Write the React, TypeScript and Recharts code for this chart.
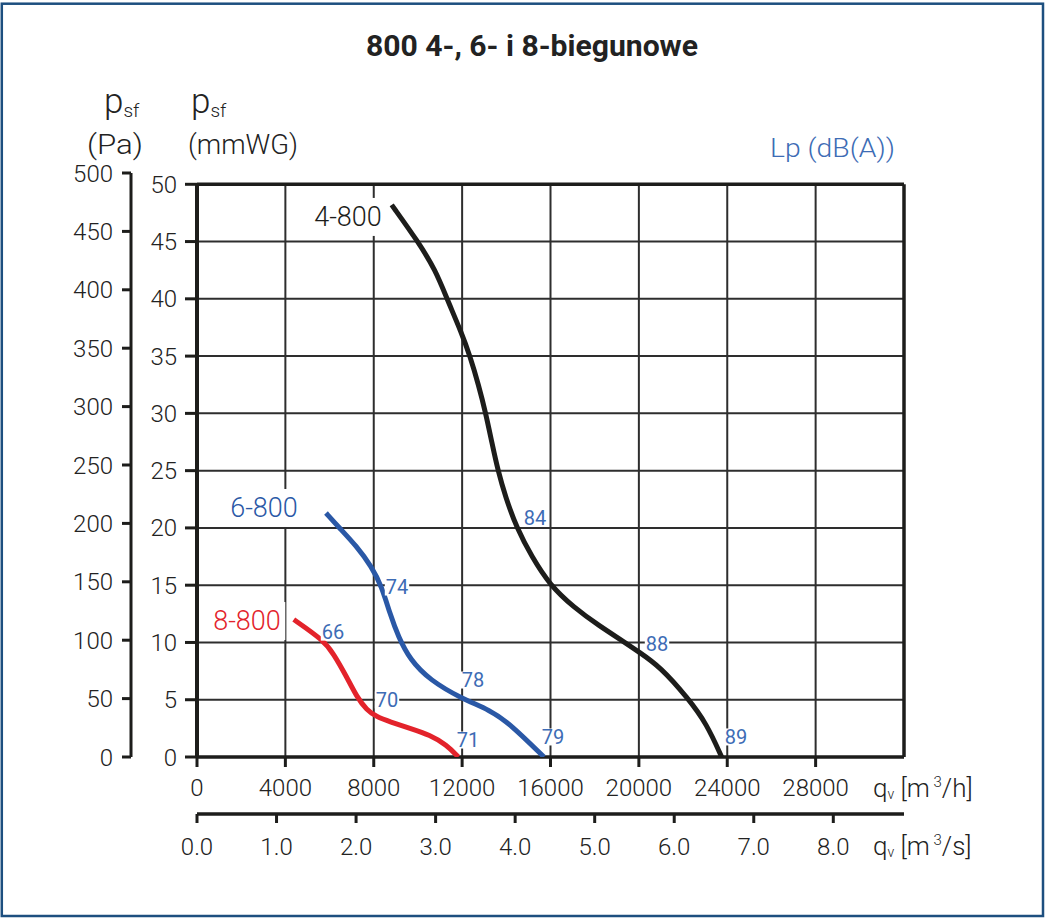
import React from 'react';
import { LineChart, Line, XAxis, YAxis, ReferenceLine, ReferenceDot } from 'recharts';

// ---- data (flow in m3/h, static pressure in mmWG) ----
const flow4 = [8812, 10003, 10795, 11315, 11980, 12356, 12741, 13071, 13352, 13623, 13963, 14470, 15148, 15977, 17033, 18240, 19296, 19975, 20956, 22237, 23068, 23747];
const pres4 = [48.2, 45.0, 42.5, 40.0, 37.0, 35.0, 32.5, 30.0, 27.4, 25.0, 22.7, 20.0, 17.5, 15.0, 13.1, 11.4, 10.1, 9.2, 7.9, 5.1, 2.9, 0];

const flow6 = [5839, 6397, 7228, 7906, 8358, 8735, 9112, 9640, 10546, 11980, 13262, 14167, 15706];
const pres6 = [21.3, 20.1, 18.4, 16.6, 14.9, 12.5, 10.5, 8.5, 6.7, 5.1, 4.1, 2.9, 0];

const flow8 = [4380, 5718, 6170, 6775, 7228, 7680, 8133, 8735, 9640, 10546, 11300, 11827];
const pres8 = [12.0, 10.2, 9.05, 7.0, 5.26, 4.1, 3.5, 3.08, 2.5, 1.92, 1.05, 0];

const flowTicks = [0, 4000, 8000, 12000, 16000, 20000, 24000, 28000];
const gridFlow = [4000, 8000, 12000, 16000, 20000, 24000, 28000];
const mmTicks = [0, 5, 10, 15, 20, 25, 30, 35, 40, 45, 50];
const paTicks = [0, 50, 100, 150, 200, 250, 300, 350, 400, 450, 500];
const m3sTicks = [0, 1, 2, 3, 4, 5, 6, 7, 8];

const dbText = ['84', '88', '89', '79', '74', '78', '66', '70', '71'];
const dbFlow = [15298, 20820, 24396, 16113, 9052, 12492, 6155, 8600, 12266];
const dbPres = [20.86, 9.87, 1.75, 1.75, 14.84, 6.72, 10.9, 4.98, 1.48];

const nameText = ['4-800', '6-800', '8-800'];
const nameFlow = [6834, 3032, 2263];
const namePres = [47.15, 21.74, 11.87];

// ---- derived ----
const FLOW_MAX = 32000;
const PA_MAX = 500;
const MM_MAX = PA_MAX / 9.80665;
const M3S_MAX = FLOW_MAX / 3600;

const toRows = (f: number[], p: number[]) => f.map((q, i) => ({ q, p: p[i] }));
const data4 = toRows(flow4, pres4);
const data6 = toRows(flow6, pres6);
const data8 = toRows(flow8, pres8);

const BLACK = '#1d1d1b';
const BLUE = '#2a58a6';
const RED = '#e3232b';
const BLUE_TXT = '#3d6cb5';
const GRID = '#2e2e2e';
const TXT = '#222';
const FONT = 'Roboto, "DejaVu Sans", sans-serif';

const nameColors = [BLACK, BLUE, RED];

const charW = (s: string, fs: number) =>
  s.split('').reduce((a, c) => a + (c === '-' ? 0.3 : 0.56) * fs, 0);

const labelShape = (text: string, color: string, fs: number, padX: number, rectH: number, weight: number) =>
  (props: any) => {
    const { cx, cy } = props;
    const w = charW(text, fs) + padX * 2;
    return (
      <g>
        <rect x={cx - w / 2} y={cy - rectH / 2} width={w} height={rectH} fill="#fff" />
        <text x={cx} y={cy} dy="0.35em" textAnchor="middle" fontSize={fs} fontFamily={FONT} fontWeight={weight} fill={color}>
          {text}
        </text>
      </g>
    );
  };

const tickStyle = { fontSize: 24, fill: TXT, fontFamily: FONT, fontWeight: 300 };

export default function App() {
  return (
    <div style={{ position: 'absolute', left: 0, top: 0, width: 1045, height: 920, background: '#fff' }}>
      <LineChart
        width={1045}
        height={920}
        margin={{ top: 173, right: 141, bottom: 46, left: 31 }}
      >
        <XAxis
          xAxisId="h"
          dataKey="q"
          type="number"
          domain={[0, FLOW_MAX]}
          allowDataOverflow
          ticks={flowTicks}
          height={57}
          axisLine={false}
          tickLine={{ stroke: BLACK, strokeWidth: 3 }}
          tickSize={10}
          tickMargin={12}
          tick={tickStyle}
          interval={0}
        />
        <XAxis
          xAxisId="s"
          dataKey={(d: any) => d.q / 3600}
          type="number"
          domain={[0, M3S_MAX]}
          allowDataOverflow
          ticks={m3sTicks}
          height={60}
          axisLine={{ stroke: BLACK, strokeWidth: 3.5 }}
          tickLine={{ stroke: BLACK, strokeWidth: 3 }}
          tickSize={9}
          tickMargin={15}
          tick={tickStyle}
          tickFormatter={(v: number) => Number(v).toFixed(1)}
          interval={0}
        />
        <YAxis
          yAxisId="mm"
          type="number"
          domain={[0, MM_MAX]}
          allowDataOverflow
          ticks={mmTicks}
          width={66}
          axisLine={false}
          tickLine={{ stroke: BLACK, strokeWidth: 3 }}
          tickSize={12}
          tickMargin={8}
          tick={tickStyle}
          interval={0}
        />
        <YAxis
          yAxisId="pa"
          type="number"
          domain={[0, PA_MAX]}
          allowDataOverflow
          ticks={paTicks}
          width={100}
          axisLine={{ stroke: BLACK, strokeWidth: 3 }}
          tickLine={{ stroke: BLACK, strokeWidth: 3 }}
          tickSize={9}
          tickMargin={9}
          tick={tickStyle}
          interval={0}
        />

        {mmTicks.slice(1, -1).map((v) => (
          <ReferenceLine key={'h' + v} xAxisId="h" yAxisId="mm" y={v} stroke={GRID} strokeWidth={2} />
        ))}
        {gridFlow.map((v) => (
          <ReferenceLine
            key={'v' + v}
            xAxisId="h"
            yAxisId="mm"
            segment={[{ x: v, y: 0 }, { x: v, y: 50 }]}
            stroke={GRID}
            strokeWidth={2}
          />
        ))}
        <ReferenceLine xAxisId="h" yAxisId="mm" y={50} stroke={BLACK} strokeWidth={3.5} />
        <ReferenceLine xAxisId="h" yAxisId="mm" y={0} stroke={BLACK} strokeWidth={3.5} />
        <ReferenceLine xAxisId="h" yAxisId="mm" segment={[{ x: 0, y: 0 }, { x: 0, y: 50 }]} stroke={BLACK} strokeWidth={4} />
        <ReferenceLine xAxisId="h" yAxisId="mm" segment={[{ x: FLOW_MAX, y: 0 }, { x: FLOW_MAX, y: 50 }]} stroke={BLACK} strokeWidth={3.5} />

        {dbText.map((t, i) => (
          <ReferenceDot
            key={'db' + i}
            xAxisId="h"
            yAxisId="mm"
            x={dbFlow[i]}
            y={dbPres[i]}
            r={0}
            shape={labelShape(t, BLUE_TXT, 20, 1, 17, 400)}
          />
        ))}
        {nameText.map((t, i) => (
          <ReferenceDot
            key={'nm' + i}
            xAxisId="h"
            yAxisId="mm"
            x={nameFlow[i]}
            y={namePres[i]}
            r={0}
            shape={labelShape(t, nameColors[i], 27, 4, 38, 300)}
          />
        ))}

        {/* same 4-800 curve expressed in m3/s, invisible: it only gives the m3/s axis its data */}
        <Line data={data4} dataKey="p" xAxisId="s" yAxisId="mm" type="basis" stroke="none" strokeOpacity={0} dot={false} activeDot={false} isAnimationActive={false} />

        <Line data={data8} dataKey="p" xAxisId="h" yAxisId="mm" type="basis" stroke={RED} strokeWidth={5} dot={false} isAnimationActive={false} />
        <Line data={data6} dataKey="p" xAxisId="h" yAxisId="mm" type="basis" stroke={BLUE} strokeWidth={5} dot={false} isAnimationActive={false} />
        <Line data={data4} dataKey="p" xAxisId="h" yAxisId="mm" type="basis" stroke={BLACK} strokeWidth={5} dot={false} isAnimationActive={false} />
      </LineChart>

      <svg width={1045} height={920} style={{ position: 'absolute', left: 0, top: 0, pointerEvents: 'none' }}>
        <rect x={1.8} y={3.7} width={1041.2} height={912.3} fill="none" stroke="#1d4f7f" strokeWidth={2.5} />
        <text x={532} y={56} textAnchor="middle" fontSize={30} fontWeight={700} fontFamily={FONT} fill={TXT} textLength={332} lengthAdjust="spacingAndGlyphs">
          800 4-, 6- i 8-biegunowe
        </text>
        <text x={104} y={113} fontFamily={FONT} fontWeight={300} fill={TXT}>
          <tspan fontSize={35}>p</tspan>
          <tspan fontSize={19} dy={4}>sf</tspan>
        </text>
        <text x={191} y={113} fontFamily={FONT} fontWeight={300} fill={TXT}>
          <tspan fontSize={35}>p</tspan>
          <tspan fontSize={19} dy={4}>sf</tspan>
        </text>
        <text x={87} y={154} fontSize={27} fontFamily={FONT} fontWeight={300} fill={TXT} textLength={56} lengthAdjust="spacingAndGlyphs">
          (Pa)
        </text>
        <text x={188} y={154} fontSize={27} fontFamily={FONT} fontWeight={300} fill={TXT} textLength={110} lengthAdjust="spacingAndGlyphs">
          (mmWG)
        </text>
        <text x={770} y={157} fontSize={26} fontFamily={FONT} fontWeight={300} fill={BLUE_TXT} textLength={125} lengthAdjust="spacingAndGlyphs">
          Lp (dB(A))
        </text>
        <text x={873} y={797} fontFamily={FONT} fontWeight={300} fill={TXT}>
          <tspan fontSize={26}>q</tspan>
          <tspan fontSize={14} dy={2}>v</tspan>
          <tspan fontSize={26} dy={-2}> [m</tspan>
          <tspan fontSize={15} dy={-10}> 3</tspan>
          <tspan fontSize={26} dy={10}>/h]</tspan>
        </text>
        <text x={873} y={855} fontFamily={FONT} fontWeight={300} fill={TXT}>
          <tspan fontSize={26}>q</tspan>
          <tspan fontSize={14} dy={2}>v</tspan>
          <tspan fontSize={26} dy={-2}> [m</tspan>
          <tspan fontSize={15} dy={-10}> 3</tspan>
          <tspan fontSize={26} dy={10}>/s]</tspan>
        </text>
      </svg>
    </div>
  );
}
